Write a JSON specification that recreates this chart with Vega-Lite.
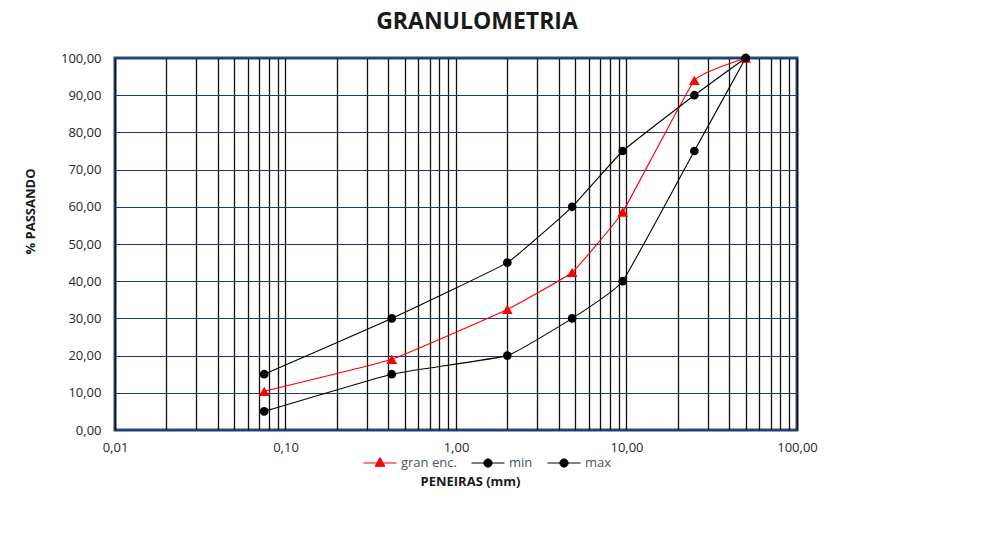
{
  "$schema": "https://vega.github.io/schema/vega-lite/v6.json",
  "autosize": {"type": "none"},
  "padding": {"left": 115, "top": 58, "right": 209, "bottom": 107},
  "width": 682,
  "height": 372,
  "background": "white",
  "config": {
    "view": {"stroke": "#2B4A7C", "strokeWidth": 3},
    "font": "Open Sans"
  },
  "title": {
    "text": "GRANULOMETRIA",
    "font": "Open Sans",
    "fontSize": 23,
    "fontWeight": "bold",
    "color": "#1a1a1a",
    "anchor": "middle",
    "dx": 21,
    "offset": 18
  },
  "data": {
    "values": [
      {"serie": "gran enc.", "peneira": 0.075, "passando": 10.4},
      {"serie": "gran enc.", "peneira": 0.42, "passando": 19.0},
      {"serie": "gran enc.", "peneira": 2.0, "passando": 32.4},
      {"serie": "gran enc.", "peneira": 4.8, "passando": 42.4},
      {"serie": "gran enc.", "peneira": 9.5, "passando": 58.6},
      {"serie": "gran enc.", "peneira": 25, "passando": 94.0},
      {"serie": "gran enc.", "peneira": 50, "passando": 100},
      {"serie": "min", "peneira": 0.075, "passando": 5},
      {"serie": "min", "peneira": 0.42, "passando": 15},
      {"serie": "min", "peneira": 2.0, "passando": 20},
      {"serie": "min", "peneira": 4.8, "passando": 30},
      {"serie": "min", "peneira": 9.5, "passando": 40},
      {"serie": "min", "peneira": 25, "passando": 75},
      {"serie": "min", "peneira": 50, "passando": 100},
      {"serie": "max", "peneira": 0.075, "passando": 15},
      {"serie": "max", "peneira": 0.42, "passando": 30},
      {"serie": "max", "peneira": 2.0, "passando": 45},
      {"serie": "max", "peneira": 4.8, "passando": 60},
      {"serie": "max", "peneira": 9.5, "passando": 75},
      {"serie": "max", "peneira": 25, "passando": 90},
      {"serie": "max", "peneira": 50, "passando": 100}
    ]
  },
  "encoding": {
    "x": {
      "field": "peneira",
      "type": "quantitative",
      "scale": {"type": "log", "domain": [0.01, 100], "nice": false},
      "axis": {
        "title": "PENEIRAS (mm)",
        "titleFont": "Open Sans",
        "titleFontSize": 13,
        "titleFontWeight": "bold",
        "titleColor": "#1a1a1a",
        "titleX": 355,
        "titleY": 45,
        "titleAnchor": "middle",
        "values": [0.01, 0.02, 0.03, 0.04, 0.05, 0.06, 0.07, 0.08, 0.09, 0.1, 0.2, 0.3, 0.4, 0.5, 0.6, 0.7, 0.8, 0.9, 1, 2, 3, 4, 5, 6, 7, 8, 9, 10, 20, 30, 40, 50, 60, 70, 80, 90, 100],
        "labelExpr": "indexof([0.01, 0.1, 1, 10, 100], datum.value) >= 0 ? replace(format(datum.value, '.2f'), '.', ',') : ''",
        "labelOverlap": false,
        "labelFlush": false,
        "labelBound": false,
        "labelFont": "Open Sans",
        "labelFontSize": 13,
        "labelColor": "#262626",
        "labelPadding": 11,
        "ticks": false,
        "domain": false,
        "grid": true,
        "gridColor": "#111111",
        "gridWidth": 1.3,
        "gridOpacity": 1
      }
    },
    "y": {
      "field": "passando",
      "type": "quantitative",
      "scale": {"domain": [0, 100], "nice": false},
      "axis": {
        "title": "% PASSANDO",
        "titleFont": "Open Sans",
        "titleFontSize": 13,
        "titleFontWeight": "bold",
        "titleColor": "#1a1a1a",
        "titleX": -78,
        "titleY": 153,
        "titleAnchor": "middle",
        "values": [0, 10, 20, 30, 40, 50, 60, 70, 80, 90, 100],
        "labelExpr": "replace(format(datum.value, '.2f'), '.', ',')",
        "labelFont": "Open Sans",
        "labelFontSize": 13,
        "labelColor": "#262626",
        "labelPadding": 14,
        "ticks": false,
        "domain": false,
        "grid": true,
        "gridColor": "#1F3B6E",
        "gridWidth": 1.2,
        "gridOpacity": 1
      }
    }
  },
  "layer": [
    {
      "mark": {"type": "line", "interpolate": "cardinal", "tension": 0.7, "strokeWidth": 1.1},
      "encoding": {
        "color": {
          "field": "serie",
          "type": "nominal",
          "scale": {"domain": ["gran enc.", "min", "max"], "range": ["#FF0000", "#000000", "#000000"]},
          "legend": {
            "title": null,
            "orient": "none",
            "legendX": 248,
            "legendY": 388,
            "direction": "horizontal",
            "symbolType": "M-1,0H1M-0.25,0A0.25,0.25 0 1,1 0.25,0A0.25,0.25 0 1,1 -0.25,0Z",
            "symbolSize": 1089,
            "symbolStrokeWidth": 1,
            "labelFont": "Open Sans",
            "labelFontSize": 13,
            "labelColor": "#44546A",
            "labelOffset": 4,
            "columnPadding": 12,
            "encode": {
              "symbols": {
                "update": {
                  "shape": {"signal": "datum.value === 'gran enc.' ? 'M-1,0H1M0,-0.33L0.3,0.2L-0.3,0.2Z' : 'M-1,0H1M-0.25,0A0.25,0.25 0 1,1 0.25,0A0.25,0.25 0 1,1 -0.25,0Z'"},
                  "fill": {"signal": "datum.value === 'gran enc.' ? '#FF0000' : '#000000'"},
                  "stroke": {"signal": "datum.value === 'gran enc.' ? '#FF0000' : '#000000'"},
                  "opacity": {"value": 1}
                }
              }
            }
          }
        },
        "detail": {"field": "serie"}
      }
    },
    {
      "mark": {"type": "point", "filled": true, "opacity": 1},
      "encoding": {
        "color": {
          "field": "serie",
          "type": "nominal",
          "scale": {"domain": ["gran enc.", "min", "max"], "range": ["#FF0000", "#000000", "#000000"]},
          "legend": {
            "title": null,
            "orient": "none",
            "legendX": 248,
            "legendY": 388,
            "direction": "horizontal",
            "symbolType": "M-1,0H1M-0.25,0A0.25,0.25 0 1,1 0.25,0A0.25,0.25 0 1,1 -0.25,0Z",
            "symbolSize": 1089,
            "symbolStrokeWidth": 1,
            "labelFont": "Open Sans",
            "labelFontSize": 13,
            "labelColor": "#44546A",
            "labelOffset": 4,
            "columnPadding": 12,
            "encode": {
              "symbols": {
                "update": {
                  "shape": {"signal": "datum.value === 'gran enc.' ? 'M-1,0H1M0,-0.33L0.3,0.2L-0.3,0.2Z' : 'M-1,0H1M-0.25,0A0.25,0.25 0 1,1 0.25,0A0.25,0.25 0 1,1 -0.25,0Z'"},
                  "fill": {"signal": "datum.value === 'gran enc.' ? '#FF0000' : '#000000'"},
                  "stroke": {"signal": "datum.value === 'gran enc.' ? '#FF0000' : '#000000'"},
                  "opacity": {"value": 1}
                }
              }
            }
          }
        },
        "shape": {
          "condition": {"test": "datum.serie === 'gran enc.'", "value": "triangle-up"},
          "value": "circle"
        },
        "size": {
          "condition": {"test": "datum.serie === 'gran enc.'", "value": 115},
          "value": 75
        }
      }
    }
  ]
}
